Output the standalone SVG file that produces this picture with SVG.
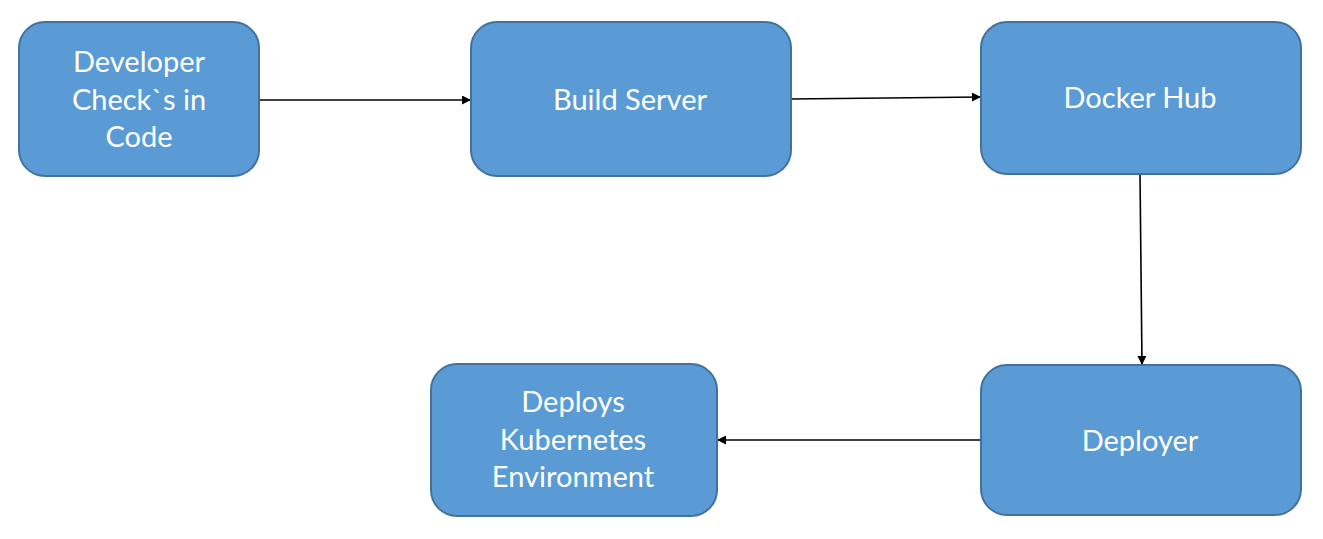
<svg xmlns="http://www.w3.org/2000/svg" width="1323" height="539" viewBox="0 0 1323 539">
<defs>
<style>
.node rect{fill:#5B9BD5;stroke:#41719C;stroke-width:2}
.node text{fill:#fff;font-family:Lato,"Open Sans","Liberation Sans",sans-serif;font-size:29px;text-anchor:middle;dominant-baseline:central}
.conn line{stroke:#000;stroke-width:1.6;marker-end:url(#ah)}
</style>
<marker id="ah" viewBox="0 0 10 10" refX="10" refY="5" markerWidth="9" markerHeight="9" markerUnits="userSpaceOnUse" orient="auto"><path d="M0,0L10,5L0,10z" fill="#000"/></marker>
</defs>
<rect width="1323" height="539" fill="#fff"/>
<g class="conn" id="connectors">
<line x1="259" y1="100" x2="471" y2="100"/>
<line x1="791" y1="99" x2="981" y2="97"/>
<line x1="1140" y1="174" x2="1142" y2="365"/>
<line x1="981" y1="440" x2="717" y2="440"/>
</g>
<g class="node" id="developer">
<rect x="19" y="22" width="240" height="154" rx="26"/>
<text x="139" y="60">Developer</text>
<text x="139" y="98">Check`s in</text>
<text x="139" y="135">Code</text>
</g>
<g class="node" id="build-server">
<rect x="471" y="22" width="320" height="154" rx="26"/>
<text x="630" y="98">Build Server</text>
</g>
<g class="node" id="docker-hub">
<rect x="981" y="22" width="320" height="152" rx="26"/>
<text x="1140" y="96">Docker Hub</text>
</g>
<g class="node" id="deployer">
<rect x="981" y="365" width="320" height="150" rx="26"/>
<text x="1140" y="439">Deployer</text>
</g>
<g class="node" id="k8s-env">
<rect x="431" y="364" width="286" height="152" rx="26"/>
<text x="573" y="400">Deploys</text>
<text x="573" y="438">Kubernetes</text>
<text x="573" y="475">Environment</text>
</g>
</svg>
